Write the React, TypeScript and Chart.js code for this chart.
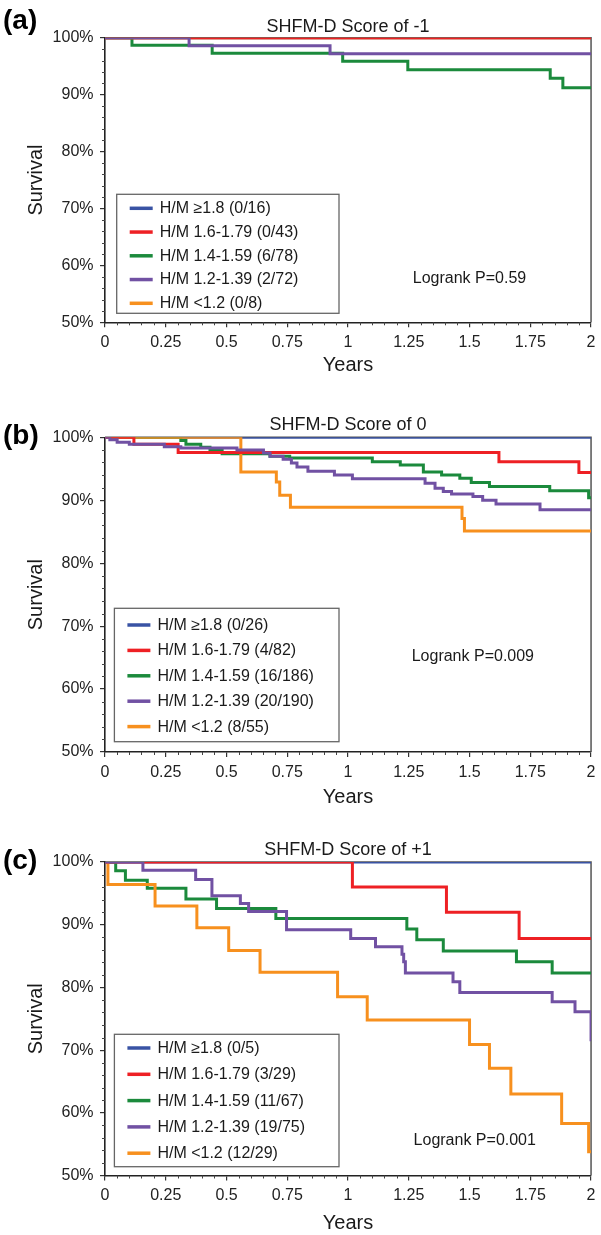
import React, { useEffect, useRef } from "react";
import { Chart, registerables } from "chart.js";

Chart.register(...registerables);

const FONT = '"Liberation Sans", Arial, Helvetica, sans-serif';

// ---------- series styling ----------
const groupColors = ["#3953a4", "#ee2024", "#1b8a3c", "#7151a3", "#f7901e"];
// higher number = drawn earlier (below)
const groupDrawOrder = [5, 2, 4, 1, 3];

// ---------- text ----------
const panelLetters = ["(a)", "(b)", "(c)"];
const panelTitles = ["SHFM-D Score of -1", "SHFM-D Score of 0", "SHFM-D Score of +1"];
const logrankTexts = ["Logrank P=0.59", "Logrank P=0.009", "Logrank P=0.001"];
const xTickLabels = ["0", "0.25", "0.5", "0.75", "1", "1.25", "1.5", "1.75", "2"];

const legendA = ["H/M \u22651.8 (0/16)", "H/M 1.6-1.79 (0/43)", "H/M 1.4-1.59 (6/78)", "H/M 1.2-1.39 (2/72)", "H/M <1.2 (0/8)"];
const legendB = ["H/M \u22651.8 (0/26)", "H/M 1.6-1.79 (4/82)", "H/M 1.4-1.59 (16/186)", "H/M 1.2-1.39 (20/190)", "H/M <1.2 (8/55)"];
const legendC = ["H/M \u22651.8 (0/5)", "H/M 1.6-1.79 (3/29)", "H/M 1.4-1.59 (11/67)", "H/M 1.2-1.39 (19/75)", "H/M <1.2 (12/29)"];

// ---------- data: panel (a) ----------
const aBlueT = [0, 2];
const aBlueS = [100, 100];
const aRedT = [0, 2];
const aRedS = [100, 100];
const aGreenT = [0, 0.111, 0.441, 0.978, 1.246, 1.832, 1.884, 2];
const aGreenS = [100, 98.7, 97.3, 95.9, 94.4, 92.9, 91.2, 91.2];
const aPurpleT = [0, 0.346, 0.926, 2];
const aPurpleS = [100, 98.6, 97.2, 97.2];
const aOrangeT = [0, 2];
const aOrangeS = [100, 100];

// ---------- data: panel (b) ----------
const bBlueT = [0, 2];
const bBlueS = [100, 100];
const bRedT = [0, 0.119, 0.301, 1.621, 1.95, 2];
const bRedS = [100, 98.9, 97.6, 96.1, 94.4, 94.4];
const bGreenT = [0, 0.312, 0.333, 0.394, 0.432, 0.482, 0.679, 0.76, 1.1, 1.215, 1.31, 1.385, 1.46, 1.507, 1.582, 1.83, 1.99, 2];
const bGreenS = [100, 99.5, 98.9, 98.4, 97.9, 97.4, 97.0, 96.7, 96.1, 95.6, 94.5, 94.0, 93.5, 92.8, 92.2, 91.5, 90.4, 90.4];
const bPurpleT = [0, 0.02, 0.05, 0.1, 0.244, 0.312, 0.543, 0.652, 0.679, 0.733, 0.767, 0.79, 0.835, 0.944, 1.018, 1.317, 1.358, 1.392, 1.426, 1.514, 1.554, 1.609, 1.79, 2];
const bPurpleS = [100, 99.6, 99.2, 98.9, 98.5, 98.3, 98.0, 97.5, 97.0, 96.5, 95.9, 95.3, 94.6, 94.0, 93.4, 92.7, 91.9, 91.4, 91.0, 90.6, 90.0, 89.4, 88.5, 88.5];
const bOrangeT = [0, 0.559, 0.705, 0.719, 0.763, 1.469, 1.479, 2];
const bOrangeS = [100, 94.5, 92.9, 90.8, 88.9, 87.1, 85.1, 85.1];

// ---------- data: panel (c) ----------
const cBlueT = [0, 2];
const cBlueS = [100, 100];
const cRedT = [0, 1.018, 1.405, 1.704, 2];
const cRedS = [100, 96.0, 92.0, 87.8, 87.8];
const cGreenT = [0, 0.044, 0.084, 0.174, 0.333, 0.459, 0.703, 1.242, 1.283, 1.392, 1.693, 1.84, 2];
const cGreenS = [100, 98.6, 97.1, 95.8, 94.1, 92.6, 91.0, 89.3, 87.6, 85.8, 84.1, 82.3, 82.3];
const cPurpleT = [0, 0.156, 0.373, 0.44, 0.557, 0.591, 0.747, 1.011, 1.113, 1.222, 1.229, 1.236, 1.432, 1.46, 1.84, 1.934, 2];
const cPurpleS = [100, 98.7, 97.2, 94.6, 93.4, 92.1, 89.2, 87.8, 86.5, 85.3, 84.1, 82.3, 80.9, 79.2, 77.7, 76.1, 71.4];
const cOrangeT = [0, 0.012, 0.206, 0.378, 0.509, 0.638, 0.957, 1.079, 1.5, 1.582, 1.67, 1.879, 1.99, 2];
const cOrangeS = [100, 96.4, 93.0, 89.5, 85.9, 82.4, 78.5, 74.8, 70.9, 67.1, 63.0, 58.3, 53.8, 53.8];

// ---------- layout per panel (pixels) ----------
const panelLayouts = [
  { top: 0, height: 390, titleCenter: 27, areaTop: 37.3, areaBottom: 322.3, yearsCenter: 365, letterY: 21,
    legend: { left: 116.7, right: 339, top: 194.3, height: 119, firstRow: 208.3, rowGap: 23.75 }, logrank: { x: 412.8, y: 279 } },
  { top: 400, height: 420, titleCenter: 25, areaTop: 37.3, areaBottom: 352, yearsCenter: 397, letterY: 36,
    legend: { left: 114.4, right: 339, top: 208.3, height: 133.4, firstRow: 225, rowGap: 25.4 }, logrank: { x: 411.7, y: 257 } },
  { top: 825, height: 410, titleCenter: 25.5, areaTop: 37, areaBottom: 350.5, yearsCenter: 398, letterY: 36,
    legend: { left: 114.4, right: 339, top: 209.3, height: 132.4, firstRow: 223, rowGap: 26.3 }, logrank: { x: 413.6, y: 315.7 } },
];

const PLOT_LEFT = 105;
const CANVAS_W = 601;

function zipPts(t: number[], s: number[]) {
  return t.map((v, i) => ({ x: v, y: s[i] }));
}

const panelSeries = [
  { labels: legendA, t: [aBlueT, aRedT, aGreenT, aPurpleT, aOrangeT], s: [aBlueS, aRedS, aGreenS, aPurpleS, aOrangeS] },
  { labels: legendB, t: [bBlueT, bRedT, bGreenT, bPurpleT, bOrangeT], s: [bBlueS, bRedS, bGreenS, bPurpleS, bOrangeS] },
  { labels: legendC, t: [cBlueT, cRedT, cGreenT, cPurpleT, cOrangeT], s: [cBlueS, cRedS, cGreenS, cPurpleS, cOrangeS] },
];

function Panel({ idx }: { idx: number }) {
  const ref = useRef<HTMLCanvasElement | null>(null);
  const L = panelLayouts[idx];
  const S = panelSeries[idx];

  useEffect(() => {
    if (!ref.current) return;
    const titlePadTop = L.titleCenter - 10.8;
    const titlePadBottom = Math.max(0, L.areaTop - titlePadTop - 21.6);
    const xHeight = L.height - L.areaBottom;
    const yearsPadBottom = L.height - L.yearsCenter - 12;

    const datasets = S.labels.map((lab, g) => ({
      label: lab,
      data: zipPts(S.t[g], S.s[g]),
      borderColor: groupColors[g],
      backgroundColor: groupColors[g],
      borderWidth: 3,
      stepped: true,
      fill: false,
      pointRadius: 0,
      order: groupDrawOrder[g],
    }));

    const overlay = {
      id: "overlay" + idx,
      beforeDatasetsDraw(chart: any) {
        const { ctx, chartArea: a } = chart;
        ctx.save();
        ctx.strokeStyle = "#555";
        ctx.lineWidth = 1.5;
        ctx.beginPath();
        ctx.moveTo(a.left, a.top);
        ctx.lineTo(a.right, a.top);
        ctx.lineTo(a.right, a.bottom);
        ctx.stroke();
        ctx.restore();
      },
      afterDraw(chart: any) {
        const { ctx, chartArea: a, scales } = chart;
        const xs = scales.x;
        const ys = scales.y;
        ctx.save();
        // minor ticks
        ctx.strokeStyle = "#444";
        ctx.lineWidth = 1;
        ctx.beginPath();
        for (let k = 0; k <= 40; k++) {
          if (k % 5 === 0) continue;
          const px = Math.round(xs.getPixelForValue(k * 0.05)) + 0.5;
          ctx.moveTo(px, a.bottom);
          ctx.lineTo(px, a.bottom + 3);
        }
        for (let v = 50; v <= 100; v += 2) {
          if (v % 10 === 0) continue;
          const py = Math.round(ys.getPixelForValue(v)) + 0.5;
          ctx.moveTo(a.left - 3, py);
          ctx.lineTo(a.left, py);
        }
        ctx.stroke();

        // legend box
        const lg = L.legend;
        ctx.fillStyle = "#fff";
        ctx.fillRect(lg.left, lg.top, lg.right - lg.left, lg.height);
        ctx.strokeStyle = "#666";
        ctx.lineWidth = 1.3;
        ctx.strokeRect(lg.left, lg.top, lg.right - lg.left, lg.height);
        ctx.font = "16px " + FONT;
        ctx.textBaseline = "middle";
        ctx.textAlign = "left";
        S.labels.forEach((lab, g) => {
          const y = lg.firstRow + g * lg.rowGap;
          ctx.strokeStyle = groupColors[g];
          ctx.lineWidth = 3.5;
          ctx.beginPath();
          ctx.moveTo(lg.left + 13, y);
          ctx.lineTo(lg.left + 36, y);
          ctx.stroke();
          ctx.fillStyle = "#1a1a1a";
          ctx.fillText(lab, lg.left + 43, y + 0.5);
        });

        // logrank
        ctx.fillStyle = "#1a1a1a";
        ctx.font = "16px " + FONT;
        ctx.fillText(logrankTexts[idx], L.logrank.x, L.logrank.y);

        // panel letter
        ctx.font = "bold 28px " + FONT;
        ctx.fillStyle = "#000";
        ctx.fillText(panelLetters[idx], 3, L.letterY);
        ctx.restore();
      },
    };

    const chart = new Chart(ref.current, {
      type: "line",
      data: { datasets } as any,
      options: {
        responsive: false,
        animation: false,
        layout: { padding: { left: 0, right: CANVAS_W - 596, top: 0, bottom: 0 } },
        plugins: {
          legend: { display: false },
          tooltip: { enabled: false },
          title: {
            display: true,
            fullSize: false,
            text: panelTitles[idx],
            color: "#1a1a1a",
            font: { family: FONT, size: 18, weight: "normal", lineHeight: 1.2 },
            padding: { top: titlePadTop, bottom: titlePadBottom },
          },
        },
        elements: { point: { radius: 0 }, line: { tension: 0 } },
        scales: {
          x: {
            type: "linear",
            min: 0,
            max: 2,
            afterFit: (s: any) => {
              s.height = xHeight;
            },
            ticks: {
              stepSize: 0.25,
              autoSkip: false,
              maxRotation: 0,
              padding: 5.5,
              color: "#222",
              font: { family: FONT, size: 16 },
              callback: (v: any) => {
                const i = Math.round(Number(v) / 0.25);
                return xTickLabels[i] ?? "";
              },
            },
            grid: { display: true, drawOnChartArea: false, drawTicks: true, tickLength: 5, color: "#333", lineWidth: 1.2 },
            border: { display: true, color: "#222", width: 1.6 },
            title: {
              display: true,
              text: "Years",
              color: "#1a1a1a",
              font: { family: FONT, size: 20, lineHeight: 1.2 },
              padding: { top: 0, bottom: yearsPadBottom },
            },
          },
          y: {
            type: "linear",
            min: 50,
            max: 100,
            afterFit: (s: any) => {
              s.width = PLOT_LEFT;
            },
            ticks: {
              stepSize: 10,
              padding: 6.5,
              color: "#222",
              font: { family: FONT, size: 16 },
              callback: (v: any) => v + "%",
            },
            grid: { display: true, drawOnChartArea: false, drawTicks: true, tickLength: 5, color: "#333", lineWidth: 1.2 },
            border: { display: true, color: "#222", width: 1.6 },
            title: {
              display: true,
              text: "Survival",
              color: "#1a1a1a",
              font: { family: FONT, size: 20, lineHeight: 1.2 },
              padding: { top: 24, bottom: 0 },
            },
          },
        },
      } as any,
      plugins: [overlay],
    });
    return () => chart.destroy();
  }, [idx]);

  return (
    <canvas
      ref={ref}
      width={CANVAS_W}
      height={L.height}
      style={{ position: "absolute", left: 0, top: L.top, width: CANVAS_W, height: L.height, display: "block" }}
    />
  );
}

export default function App() {
  return (
    <div style={{ position: "absolute", left: 0, top: 0, width: 601, height: 1235, background: "#fff", overflow: "hidden" }}>
      <Panel idx={0} />
      <Panel idx={1} />
      <Panel idx={2} />
    </div>
  );
}
